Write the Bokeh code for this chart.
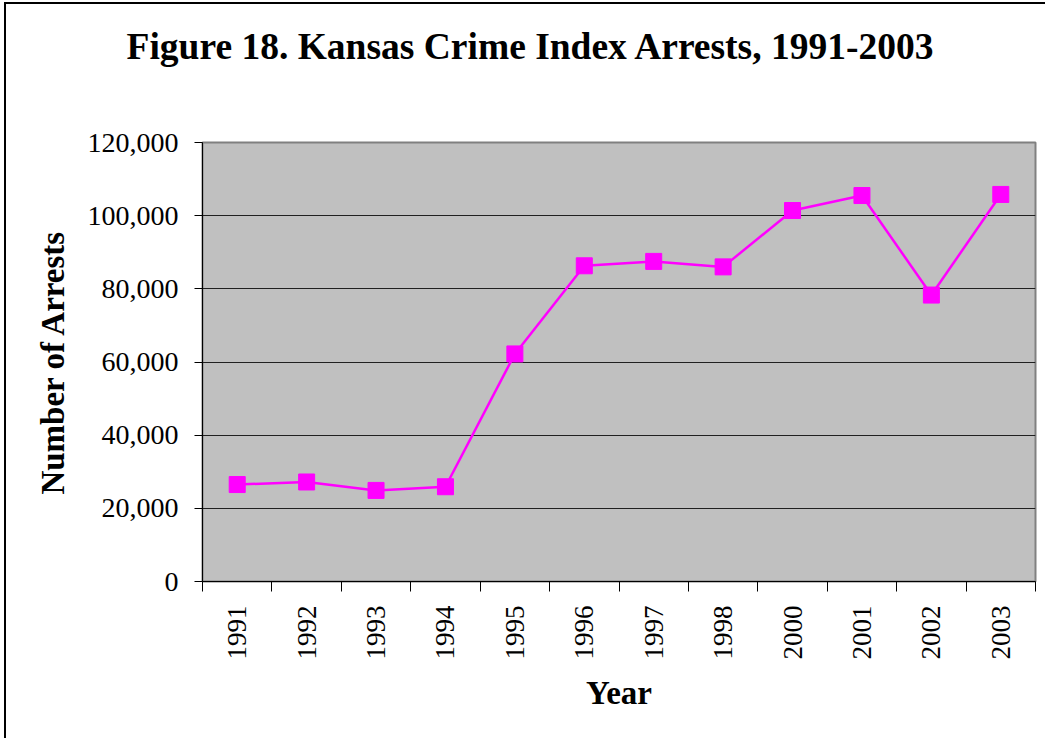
import math
from bokeh.plotting import figure
from bokeh.models import Range1d, FixedTicker, NumeralTickFormatter, Title, ColumnDataSource
from bokeh.embed import file_html
from bokeh.resources import INLINE

years = ["1991", "1992", "1993", "1994", "1995", "1996", "1997", "1998", "2000", "2001", "2002", "2003"]
arrests = [26500, 27200, 24900, 25900, 62200, 86300, 87500, 86000, 101400, 105500, 78300, 105800]
y_ticks = [0, 20000, 40000, 60000, 80000, 100000, 120000]
title_text = "Figure 18. Kansas Crime Index Arrests, 1991-2003"

FONT = "Liberation Serif"

# outer chart frame (left/top edges) drawn as CSS border; canvas starts at (6, 4)
OX, OY = 6, 4
W, H = 1047 - OX, 740 - OY
BL, BR, BT, BB = 202 - OX, 12, 142 - OY, 159
YMAX = 120000

idx = list(range(len(years)))
xpos = [i + 0.5 for i in idx]
src = ColumnDataSource(dict(x=xpos, y=arrests, year=years))

p = figure(width=W, height=H, output_backend="svg", toolbar_location=None,
           x_range=Range1d(0, len(years)), y_range=Range1d(0, YMAX),
           min_border_left=BL, min_border_right=BR, min_border_top=BT, min_border_bottom=BB,
           styles={"margin-left": "4px", "margin-top": "2px",
                   "border-left": "2px solid black", "border-top": "2px solid black"})

p.background_fill_color = "#C0C0C0"
p.border_fill_color = "white"
p.outline_line_color = "#808080"
p.outline_line_width = 2

p.xgrid.grid_line_color = None
p.ygrid.grid_line_color = "#202020"
p.ygrid.grid_line_width = 1

p.line("x", "y", source=src, line_color="#FF00FF", line_width=2.5)
p.scatter("x", "y", source=src, marker="square", size=16, fill_color="#FF00FF", line_color="#FF00FF")

# spacer between frame and title, then the title (left-aligned with a negative offset
# so that it is centred on the whole chart rather than on the frame)
p.add_layout(Title(text=" ", text_font_size="62px", standoff=0), "above")
p.add_layout(Title(text=title_text, text_font=FONT, text_font_size="37.5px",
                   text_font_style="bold", text_color="black", align="left",
                   offset=126 - 202, standoff=10), "above")

# x axis
xa = p.xaxis[0]
xa.ticker = FixedTicker(ticks=xpos, minor_ticks=[float(i) for i in range(len(years) + 1)])
xa.major_label_overrides = {x: y for x, y in zip(xpos, years)}
xa.major_tick_line_color = None
xa.minor_tick_line_color = "black"
xa.minor_tick_out = 10
xa.minor_tick_in = 0
xa.major_label_orientation = math.pi / 2
xa.major_label_text_font = FONT
xa.major_label_text_font_size = "27px"
xa.major_label_text_color = "black"
xa.major_label_standoff = 14
xa.axis_label = "Year"
xa.axis_label_text_font = FONT
xa.axis_label_text_font_size = "33px"
xa.axis_label_text_font_style = "bold"
xa.axis_label_text_color = "black"
xa.axis_label_standoff = 12
xa.axis_line_color = "black"
xa.axis_line_width = 1

# y axis
ya = p.yaxis[0]
ya.ticker = FixedTicker(ticks=y_ticks)
ya.formatter = NumeralTickFormatter(format="0,0")
ya.major_tick_out = 8
ya.major_tick_in = 0
ya.major_tick_line_color = "black"
ya.minor_tick_line_color = None
ya.major_label_text_font = FONT
ya.major_label_text_font_size = "28px"
ya.major_label_text_color = "black"
ya.major_label_standoff = 16
ya.axis_label = "Number of Arrests"
ya.axis_label_text_font = FONT
ya.axis_label_text_font_size = "33px"
ya.axis_label_text_font_style = "bold"
ya.axis_label_text_color = "black"
ya.axis_label_standoff = 14
ya.axis_line_color = "black"

open("out.html", "w").write(file_html(p, INLINE))
